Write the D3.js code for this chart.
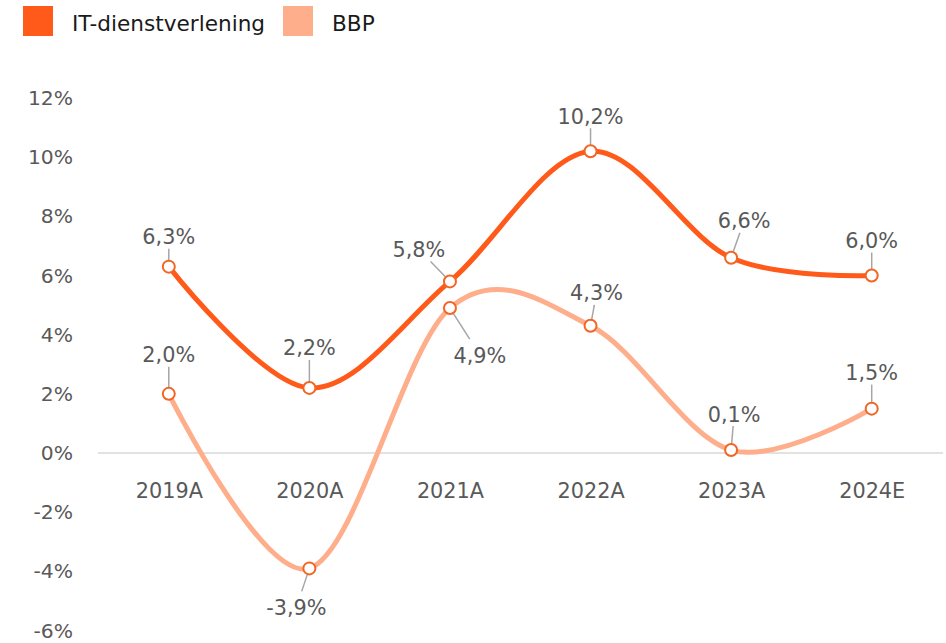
<!DOCTYPE html>
<meta charset="utf-8">
<script src="https://d3js.org/d3.v7.min.js"></script>
<style>
  body { margin: 0; background: #fff; }
  * { font-family: 'DejaVu Sans', sans-serif; }
</style>
<div id="chart"></div>
<script>
// data
const years = ["2019A", "2020A", "2021A", "2022A", "2023A", "2024E"];
const itValues = [6.3, 2.2, 5.8, 10.2, 6.6, 6.0];
const bbpValues = [2.0, -3.9, 4.9, 4.3, 0.1, 1.5];
const yTicks = [-6, -4, -2, 0, 2, 4, 6, 8, 10, 12];

// label offsets (px) from each point
const itLabelOffsets = [[0, -30], [0, -40], [-31, -32], [0, -35], [13, -37], [0, -35]];
const bbpLabelOffsets = [[0, -39], [-13, 39], [30, 47], [6, -33], [3, -36], [0, -36]];

const W = 946, H = 643;
const itColor = "#ff5a1a", bbpColor = "#ffae8c", markerStroke = "#f26522";

const svg = d3.select("#chart").append("svg")
  .attr("width", W).attr("height", H);

const x = d3.scalePoint().domain(years).range([98.5, 942]).padding(0.5);
const y = d3.scaleLinear().domain([-6, 12]).range([630.5, 98]);

const fmt = v => d3.format(".1f")(v).replace("\u2212", "-").replace(".", ",") + "%";

// zero line
svg.append("line")
  .attr("x1", 98).attr("x2", 943)
  .attr("y1", y(0)).attr("y2", y(0))
  .attr("stroke", "#d9d9d9").attr("stroke-width", 1.5);

// y axis
const yAxis = svg.append("g")
  .attr("transform", "translate(73,0)")
  .call(d3.axisLeft(y).tickValues(yTicks).tickSize(0).tickPadding(0).tickFormat(d => d + "%"));
yAxis.select(".domain").remove();
yAxis.selectAll("text").attr("fill", "#595959").style("font-size", "20.3px");

// x axis
const xAxis = svg.append("g")
  .attr("transform", "translate(0," + y(0) + ")")
  .call(d3.axisBottom(x).tickSize(0).tickPadding(30));
xAxis.select(".domain").remove();
xAxis.selectAll("text").attr("fill", "#595959").style("font-size", "20.8px");

const line = d3.line()
  .x((d, i) => x(years[i]))
  .y(d => y(d))
  .curve(d3.curveCardinal.tension(0));

function drawSeries(values, color, offsets) {
  svg.append("path")
    .datum(values)
    .attr("d", line)
    .attr("fill", "none")
    .attr("stroke", color)
    .attr("stroke-width", 5)
    .attr("stroke-linecap", "round");

  // leader lines
  values.forEach((v, i) => {
    const px = x(years[i]), py = y(v);
    const [dx, dy] = offsets[i];
    const endY = py + dy + (dy < 0 ? 12 : -16);
    const t = (endY - py) / dy;
    const endX = px + dx * t;
    const len = Math.hypot(endX - px, endY - py);
    if (len > 6) {
      svg.append("line")
        .attr("x1", px).attr("y1", py)
        .attr("x2", endX).attr("y2", endY)
        .attr("stroke", "#a6a6a6").attr("stroke-width", 1.5);
    }
  });

  svg.append("g").selectAll("circle")
    .data(values).enter()
    .append("circle")
      .attr("cx", (d, i) => x(years[i]))
      .attr("cy", d => y(d))
      .attr("r", 6)
      .attr("fill", "#fff")
      .attr("stroke", markerStroke)
      .attr("stroke-width", 2);

  svg.append("g").selectAll("text")
    .data(values).enter()
    .append("text")
      .attr("x", (d, i) => x(years[i]) + offsets[i][0])
      .attr("y", (d, i) => y(d) + offsets[i][1])
      .attr("dy", "0.36em")
      .attr("text-anchor", "middle")
      .attr("fill", "#595959")
      .style("font-size", "20.8px")
      .text(d => fmt(d));
}

drawSeries(bbpValues, bbpColor, bbpLabelOffsets);
drawSeries(itValues, itColor, itLabelOffsets);

// legend
const legendItems = [
  { name: "IT-dienstverlening", color: itColor, x: 23 },
  { name: "BBP", color: bbpColor, x: 283 }
];
const legend = svg.append("g").selectAll("g")
  .data(legendItems).enter().append("g");
legend.append("rect")
  .attr("x", d => d.x).attr("y", 6)
  .attr("width", 30).attr("height", 30)
  .attr("fill", d => d.color);
legend.append("text")
  .attr("x", d => d.x + 49).attr("y", 31)
  .attr("fill", "#1a1a1a")
  .style("font-size", "21.6px")
  .text(d => d.name);
</script>
